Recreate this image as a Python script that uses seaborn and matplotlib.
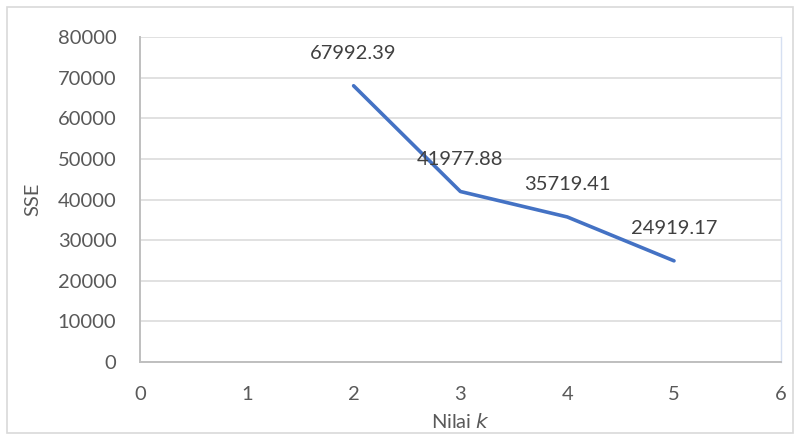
import matplotlib
matplotlib.use("Agg")
import matplotlib.pyplot as plt
import seaborn as sns
import pandas as pd
from matplotlib.patches import Rectangle

# Elbow-method results: sum of squared errors per number of clusters
k_values = [2, 3, 4, 5]
sse_values = [67992.39, 41977.88, 35719.41, 24919.17]
x_ticks = [0, 1, 2, 3, 4, 5, 6]
y_ticks = [0, 10000, 20000, 30000, 40000, 50000, 60000, 70000, 80000]

df = pd.DataFrame({"k": k_values, "SSE": sse_values})

sns.set_theme(style="white")
plt.rcParams["font.family"] = ["Lato", "DejaVu Sans"]

text_color = "#595959"
grid_color = "#D9D9D9"
fs = 14.5

fig = plt.figure(figsize=(8, 4.4), dpi=100)
ax = fig.add_axes([0.175, 0.177, 0.801, 0.739])

sns.lineplot(data=df, x="k", y="SSE", ax=ax, color="#4472C4",
             linewidth=2.6, marker=None, solid_capstyle="round")

for k, v in zip(k_values, sse_values):
    ax.annotate(f"{v:.2f}", xy=(k, v), xytext=(0, 23), textcoords="offset points",
                ha="center", va="center", fontsize=fs, color="#404040")

ax.set_xlim(x_ticks[0], x_ticks[-1])
ax.set_ylim(y_ticks[0], y_ticks[-1])
ax.set_xticks(x_ticks)
ax.set_yticks(y_ticks)
ax.set_xticklabels([str(t) for t in x_ticks])
ax.set_yticklabels([str(t) for t in y_ticks])
ax.tick_params(axis="both", labelsize=fs, colors=text_color, length=0)
ax.tick_params(axis="x", pad=17)
ax.tick_params(axis="y", pad=17)

ax.grid(axis="y", color=grid_color, linewidth=1.1)
ax.set_axisbelow(True)

for side in ["left", "bottom"]:
    ax.spines[side].set_color("#BFBFBF")
    ax.spines[side].set_linewidth(1.4)
ax.spines["top"].set_visible(False)
ax.spines["right"].set_color("#D6E0F2")
ax.spines["right"].set_linewidth(1.0)

ax.set_xlabel("Nilai $\\it{k}$", fontsize=fs, color=text_color, labelpad=7)
ax.set_ylabel("SSE", fontsize=fs, color=text_color, labelpad=12)

# Light frame around the whole chart area
fig.patches.append(Rectangle((0.009, 0.016), 0.982, 0.968, transform=fig.transFigure,
                             fill=False, edgecolor="#D9D9D9", linewidth=1.2))

fig.savefig("out.png", dpi=100, facecolor="white")
